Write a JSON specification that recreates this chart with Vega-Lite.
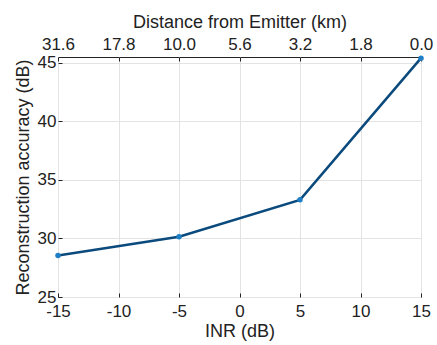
{
  "$schema": "https://vega.github.io/schema/vega-lite/v6.json",
  "width": 363,
  "height": 240,
  "autosize": "none",
  "padding": {"left": 58, "top": 57, "right": 16, "bottom": 48},
  "background": "white",
  "config": {
    "view": {"stroke": "#222", "strokeWidth": 1},
    "font": "Liberation Sans",
    "axis": {
      "labelFont": "Liberation Sans",
      "titleFont": "Liberation Sans",
      "labelFontSize": 17,
      "titleFontSize": 18,
      "titleFontWeight": "normal",
      "labelColor": "#222",
      "titleColor": "#222",
      "gridColor": "#e3e3e3",
      "gridWidth": 1,
      "domain": false,
      "tickColor": "#222",
      "tickSize": -4,
      "labelFlush": false,
      "labelOverlap": false,
      "labelBound": false
    }
  },
  "data": {
    "values": [
      {"inr": -15, "acc": 28.55},
      {"inr": -5, "acc": 30.15},
      {"inr": 5, "acc": 33.3},
      {"inr": 15, "acc": 45.4}
    ]
  },
  "resolve": {"axis": {"x": "independent"}},
  "layer": [
    {
      "mark": {"type": "line", "color": "#0b4a7d", "strokeWidth": 2.5},
      "encoding": {
        "x": {
          "field": "inr", "type": "quantitative",
          "scale": {"domain": [-15, 15], "nice": false},
          "axis": {"orient": "bottom", "values": [-15, -10, -5, 0, 5, 10, 15], "title": "INR (dB)", "labelPadding": 10, "titlePadding": 3, "grid": true,
            "labelExpr": "replace(datum.label, '\u2212', '-')"}
        },
        "y": {
          "field": "acc", "type": "quantitative",
          "scale": {"domain": [25, 45.5], "nice": false, "zero": false},
          "axis": {"values": [25, 30, 35, 40, 45], "title": "Reconstruction accuracy (dB)", "labelPadding": 6, "titlePadding": 5, "grid": true}
        }
      }
    },
    {
      "mark": {"type": "point", "filled": true, "color": "#1f7fc4", "size": 30, "opacity": 1},
      "encoding": {
        "x": {
          "field": "inr", "type": "quantitative",
          "axis": {
            "orient": "top", "values": [-15, -10, -5, 0, 5, 10, 15],
            "title": "Distance from Emitter (km)", "grid": false, "labelPadding": 8, "titlePadding": 4,
            "labelExpr": "datum.value == -15 ? '31.6' : datum.value == -10 ? '17.8' : datum.value == -5 ? '10.0' : datum.value == 0 ? '5.6' : datum.value == 5 ? '3.2' : datum.value == 10 ? '1.8' : '0.0'"
          }
        },
        "y": {"field": "acc", "type": "quantitative"}
      }
    }
  ]
}
